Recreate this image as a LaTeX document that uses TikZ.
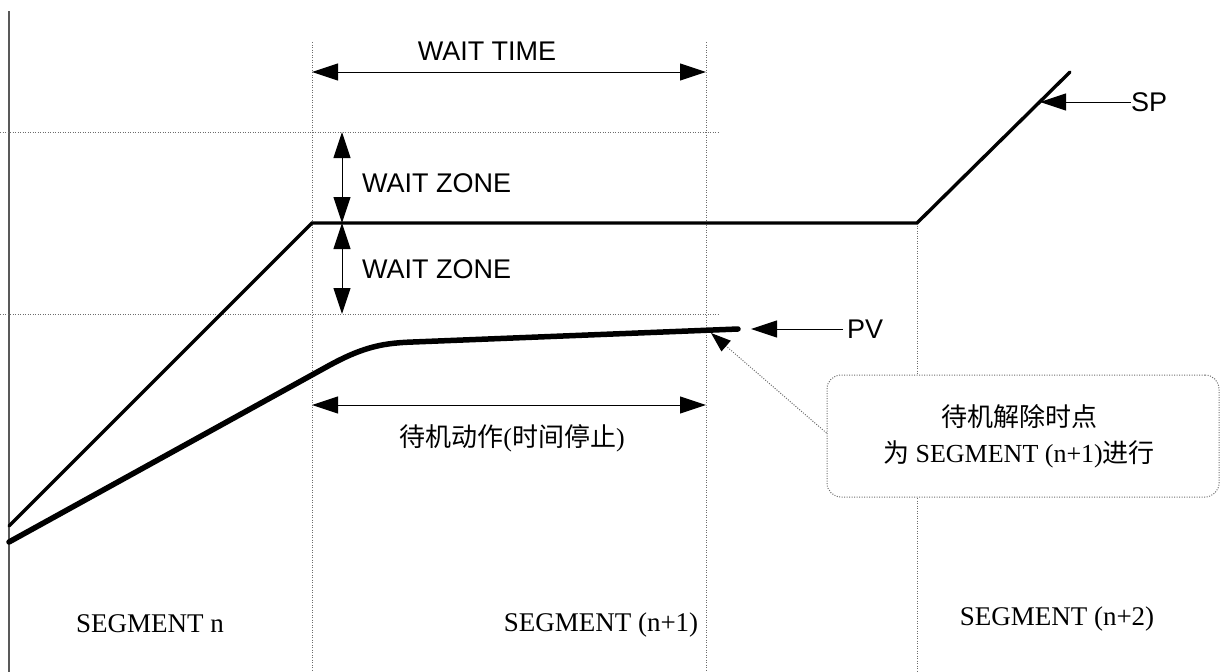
\documentclass[tikz,border=0pt]{standalone}
\usepackage{fontspec}
\setmainfont{Liberation Serif}
\newfontfamily\lsans{Liberation Sans}
\newfontfamily\cjk{Noto Sans CJK SC}
\usetikzlibrary{arrows.meta,calc}
\begin{document}
\begin{tikzpicture}[x=1pt,y=-1pt,
  guide/.style={draw=gray!85!black, line width=1pt, dash pattern=on 1pt off 1.5pt},
  bigtip/.tip={Triangle[length=26pt,width=17pt]},
  dimarrow/.style={{bigtip}-{bigtip}, line width=1pt},
  ptr/.style={-{bigtip}, line width=1pt},
  sanslbl/.style={font=\lsans\fontsize{27}{30}\selectfont, inner sep=0pt},
  seglbl/.style={font=\fontsize{27}{30}\selectfont, inner sep=0pt, anchor=base},
  spline/.style={line width=3.4pt, line join=miter, line cap=round},
  pvline/.style={line width=5.5pt, line cap=round},
]
\useasboundingbox (0,0) rectangle (1221,672);

% coordinates
\coordinate (ax0) at (9,11);
\coordinate (ax1) at (9,672);
\coordinate (v1t) at (312,42);  \coordinate (v1b) at (312,672);
\coordinate (v2t) at (706,42);  \coordinate (v2b) at (706,672);
\coordinate (v3t) at (917,223); \coordinate (v3b) at (917,672);
\coordinate (h1l) at (0,132);   \coordinate (h1r) at (718,132);
\coordinate (h2l) at (0,314);   \coordinate (h2r) at (718,314);

% axis and guides
\draw[gray!70!black, line width=2pt] (ax0) -- (ax1);
\draw[guide] (v1t) -- (v1b);
\draw[guide] (v2t) -- (v2b);
\draw[guide] (v3t) -- (v3b);
\draw[guide] (h1l) -- (h1r);
\draw[guide] (h2l) -- (h2r);

% SP line
\coordinate (sp0) at (9,526);
\coordinate (sp1) at (312,223);
\coordinate (sp2) at (917,223);
\coordinate (sp3) at (1070,72);
\draw[spline] (sp0) -- (sp1) -- (sp2) -- (sp3);

% PV curve
\coordinate (pv0) at (9,542);
\coordinate (pv1) at (330,365);
\coordinate (pv2) at (413,342);
\coordinate (pv3) at (738,329);
\draw[pvline] (pv0) -- (pv1) .. controls (365,346) and (385,343) .. (pv2) -- (pv3);

% WAIT TIME
\coordinate (wtl) at (312,72);
\coordinate (wtr) at (706,72);
\draw[dimarrow] (wtl) -- (wtr);
\node[sanslbl, anchor=base] (wt) at (487,60) {WAIT TIME};

% WAIT ZONE arrows
\coordinate (wz0) at (342,132);
\coordinate (wz1) at (342,223);
\coordinate (wz2) at (342,314);
\draw[dimarrow] (wz0) -- (wz1);
\draw[dimarrow] (wz1) -- (wz2);
\node[sanslbl, anchor=base west] (wzu) at (362,192) {WAIT ZONE};
\node[sanslbl, anchor=base west] (wzl) at (362,278) {WAIT ZONE};

% standby action arrow
\coordinate (sal) at (312,405);
\coordinate (sar) at (706,405);
\draw[dimarrow] (sal) -- (sar);
\node[font=\fontsize{26}{30}\selectfont, inner sep=0pt] (sa) at (512,438) {{\cjk 待机动作}({\cjk 时间停止})};

% SP pointer
\node[sanslbl, anchor=west] (splbl) at (1131,102) {SP};
\coordinate (sptip) at (1040,102);
\draw[ptr] (splbl.west) -- (sptip);

% PV pointer
\node[sanslbl, anchor=west] (pvlbl) at (847,329) {PV};
\coordinate (pvtip) at (751,329);
\draw[ptr] ($(pvlbl.west)+(-4,0)$) -- (pvtip);

% callout box
\node[draw=gray!85!black, line width=1pt, dash pattern=on 1pt off 1.5pt, rounded corners=14pt,
      fill=white, minimum width=392pt, minimum height=122pt, inner sep=0pt] (call) at (1023,436) {};
\node[font=\fontsize{26}{36}\selectfont, align=center, inner sep=0pt] (calltxt) at (1019,436)
  {{\cjk 待机解除时点}\\{\cjk 为} SEGMENT (n+1){\cjk 进行}};
\coordinate (calltip) at (711,333);
\draw[guide, -{Triangle[length=20pt,width=14pt,color=black]}] ($(call.west)+(0,-3)$) -- (calltip);

% segment labels
\node[seglbl] (s1) at (150,632) {SEGMENT n};
\node[seglbl] (s2) at (601,631) {SEGMENT (n+1)};
\node[seglbl] (s3) at (1057,625) {SEGMENT (n+2)};
\end{tikzpicture}
\end{document}
